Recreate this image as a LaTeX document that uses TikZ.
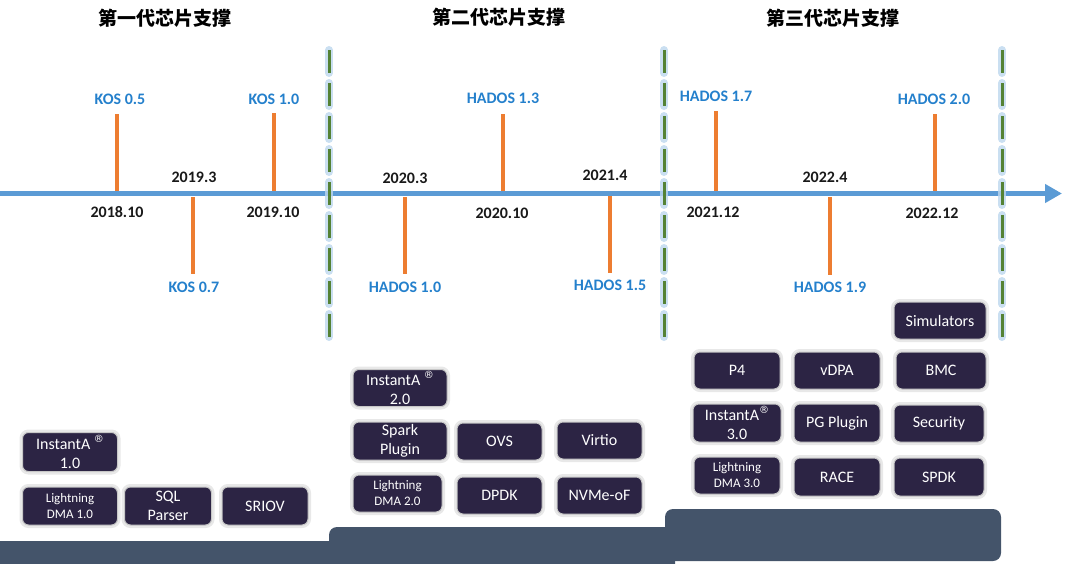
\documentclass[tikz,border=0pt]{standalone}
\usepackage{fontspec}
\setmainfont{Carlito}
\newfontfamily\cjk{Noto Sans CJK SC}
\newfontfamily\dejavu{DejaVu Sans}
\usetikzlibrary{arrows.meta}
\definecolor{axisblue}{RGB}{91,155,213}
\definecolor{tickor}{RGB}{237,125,49}
\definecolor{lblblue}{RGB}{36,128,204}
\definecolor{boxc}{RGB}{44,36,68}
\definecolor{platc}{RGB}{68,84,106}
\definecolor{sepgreen}{RGB}{84,130,53}
\definecolor{glowblue}{RGB}{189,215,238}
\newcommand{\regmark}{\raisebox{0.42em}{\dejavu\fontsize{10}{10}\selectfont ®}}
\tikzset{
  box/.style={fill=boxc, draw=black!22, line width=1pt, rounded corners=6pt, text=white, align=center, inner sep=0pt,
    font=\fontsize{16}{19}\selectfont,
    preaction={draw=black!9, line width=6pt, rounded corners=6pt}},
  smallbox/.style={box, font=\fontsize{13}{16}\selectfont},
  title/.style={font=\cjk\bfseries\fontsize{19}{22}\selectfont, text=black},
  ver/.style={font=\bfseries\fontsize{16}{18}\selectfont, text=lblblue, inner sep=0pt},
  date/.style={font=\bfseries\fontsize{16}{18}\selectfont, text=black!90, inner sep=0pt},
  tick/.style={draw=tickor, line width=3.5pt},
  plat/.style={fill=platc, rounded corners=8pt},
  sepglow/.style={draw=glowblue, line width=8pt, dash pattern=on 23pt off 10pt, line cap=round, opacity=0.8},
  sepline/.style={draw=sepgreen, line width=3pt, dash pattern=on 23pt off 10pt},
}
\begin{document}
\begin{tikzpicture}[x=1pt,y=-1pt]
\useasboundingbox (0,0) rectangle (1080,563);
% platforms
\path[plat] (-20,541) rectangle (345,590);
\path[plat] (329,527) rectangle (675,590);
\path[plat] (665,509) rectangle (1001,561);
% titles
\node[title] (t1) at (165,18) {第一代芯片支撑};
\node[title] (t2) at (499,17) {第二代芯片支撑};
\node[title] (t3) at (833,18) {第三代芯片支撑};
% version labels
\node[ver] (k05) at (120,99) {KOS 0.5};
\node[ver] (k10) at (274,99) {KOS 1.0};
\node[ver] (k07) at (194,287) {KOS 0.7};
\node[ver] (h10) at (405,287) {HADOS 1.0};
\node[ver] (h13) at (503,98) {HADOS 1.3};
\node[ver] (h15) at (610,285) {HADOS 1.5};
\node[ver] (h17) at (716,96) {HADOS 1.7};
\node[ver] (h19) at (830,287) {HADOS 1.9};
\node[ver] (h20) at (934,99) {HADOS 2.0};
% dates
\node[date] (d1) at (117,212) {2018.10};
\node[date] (d2) at (194,177) {2019.3};
\node[date] (d3) at (273,212) {2019.10};
\node[date] (d4) at (405,178) {2020.3};
\node[date] (d5) at (502,213) {2020.10};
\node[date] (d6) at (605,175) {2021.4};
\node[date] (d7) at (713,212) {2021.12};
\node[date] (d8) at (825,177) {2022.4};
\node[date] (d9) at (932,213) {2022.12};
% tick ends
\coordinate (k05a) at (117,114); \coordinate (k05b) at (117,192);
\coordinate (k10a) at (274,113); \coordinate (k10b) at (274,192);
\coordinate (k07a) at (193,197); \coordinate (k07b) at (193,274);
\coordinate (h10a) at (405,197); \coordinate (h10b) at (405,274);
\coordinate (h13a) at (503,114); \coordinate (h13b) at (503,192);
\coordinate (h15a) at (610,196); \coordinate (h15b) at (610,273);
\coordinate (h17a) at (716,111); \coordinate (h17b) at (716,192);
\coordinate (h19a) at (830,197); \coordinate (h19b) at (830,275);
\coordinate (h20a) at (935,114); \coordinate (h20b) at (935,192);
\foreach \t in {k05,k10,k07,h10,h13,h15,h17,h19,h20} {\draw[tick] (\t a) -- (\t b);}
% axis
\coordinate (axs) at (0,193.5);
\coordinate (axe) at (1062,193.5);
\draw[axisblue, line width=5pt, -{Triangle[length=17pt,width=18pt]}] (axs) -- (axe);
% separators
\coordinate (s1a) at (329,50); \coordinate (s1b) at (329,340);
\coordinate (s2a) at (664,50); \coordinate (s2b) at (664,340);
\coordinate (s3a) at (1002,50); \coordinate (s3b) at (1002,340);
\foreach \s in {s1,s2,s3} {\draw[sepglow] (\s a) -- (\s b);}
\foreach \s in {s1,s2,s3} {\draw[sepline] (\s a) -- (\s b);}
% gen 1 boxes
\node[box, minimum width=95pt, minimum height=39pt] (i1) at (70,452) {InstantA \regmark\\1.0};
\node[smallbox, minimum width=95pt, minimum height=38pt] (l1) at (70,506) {Lightning\\DMA 1.0};
\node[box, minimum width=87pt, minimum height=38pt] (sql) at (168,506) {SQL\\Parser};
\node[box, minimum width=86pt, minimum height=38pt] (sriov) at (265,506) {SRIOV};
% gen 2 boxes
\node[box, minimum width=94pt, minimum height=37pt] (i2) at (400,388) {InstantA \regmark\\2.0};
\node[box, minimum width=94pt, minimum height=38pt] (spark) at (400,441) {Spark\\Plugin};
\node[box, minimum width=85pt, minimum height=37pt] (ovs) at (499.5,441.5) {OVS};
\node[box, minimum width=85pt, minimum height=37pt] (virtio) at (599.5,440.5) {Virtio};
\node[smallbox, minimum width=89pt, minimum height=37pt] (l2) at (397.5,493.5) {Lightning\\DMA 2.0};
\node[box, minimum width=85pt, minimum height=37pt] (dpdk) at (499.5,495.5) {DPDK};
\node[box, minimum width=85pt, minimum height=37pt] (nvme) at (599.5,495.5) {NVMe-oF};
% gen 3 boxes
\node[box, minimum width=92pt, minimum height=37pt] (sim) at (940,320.5) {Simulators};
\node[box, minimum width=86pt, minimum height=37pt] (p4) at (737,370.5) {P4};
\node[box, minimum width=86pt, minimum height=37pt] (vdpa) at (837,370.5) {vDPA};
\node[box, minimum width=90pt, minimum height=37pt] (bmc) at (941,370.5) {BMC};
\node[box, minimum width=88pt, minimum height=38pt] (i3) at (737,423) {InstantA\regmark\\3.0};
\node[box, minimum width=86pt, minimum height=38pt] (pg) at (837,423) {PG Plugin};
\node[box, minimum width=90pt, minimum height=37pt] (sec) at (939,423.5) {Security};
\node[smallbox, minimum width=86pt, minimum height=37pt] (l3) at (737,475.5) {Lightning\\DMA 3.0};
\node[box, minimum width=86pt, minimum height=38pt] (race) at (837,477) {RACE};
\node[box, minimum width=90pt, minimum height=38pt] (spdk) at (939,477) {SPDK};
\end{tikzpicture}
\end{document}
